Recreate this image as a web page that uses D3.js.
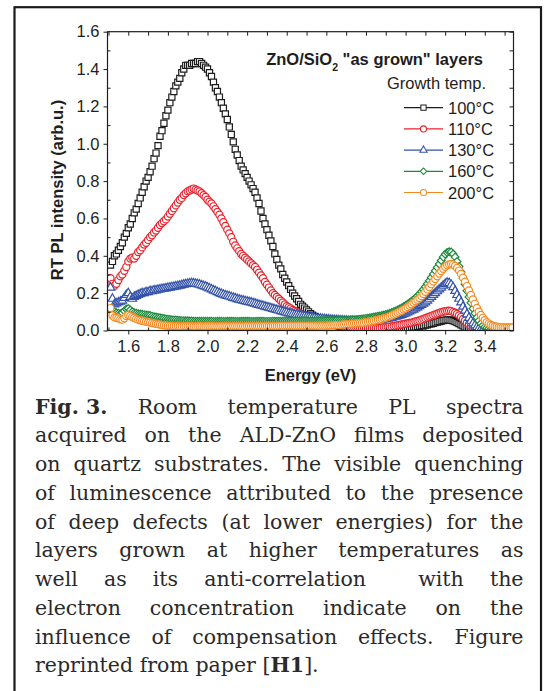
<!DOCTYPE html>
<html>
<head>
<meta charset="utf-8">
<script src="https://cdn.jsdelivr.net/npm/d3@7"></script>
<style>
  body { margin: 0; background: #fff; }
  svg { display: block; }
</style>
</head>
<body>
<div id="chart"></div>
<script>
// photon energy (eV), one reading every 0.01 eV
const energy = [
  1.51,1.52,1.53,1.54,1.55,1.56,1.57,1.58,1.59,1.60,
  1.61,1.62,1.63,1.64,1.65,1.66,1.67,1.68,1.69,1.70,
  1.71,1.72,1.73,1.74,1.75,1.76,1.77,1.78,1.79,1.80,
  1.81,1.82,1.83,1.84,1.85,1.86,1.87,1.88,1.89,1.90,
  1.91,1.92,1.93,1.94,1.95,1.96,1.97,1.98,1.99,2.00,
  2.01,2.02,2.03,2.04,2.05,2.06,2.07,2.08,2.09,2.10,
  2.11,2.12,2.13,2.14,2.15,2.16,2.17,2.18,2.19,2.20,
  2.21,2.22,2.23,2.24,2.25,2.26,2.27,2.28,2.29,2.30,
  2.31,2.32,2.33,2.34,2.35,2.36,2.37,2.38,2.39,2.40,
  2.41,2.42,2.43,2.44,2.45,2.46,2.47,2.48,2.49,2.50,
  2.51,2.52,2.53,2.54,2.55,2.56,2.57,2.58,2.59,2.60,
  2.61,2.62,2.63,2.64,2.65,2.66,2.67,2.68,2.69,2.70,
  2.71,2.72,2.73,2.74,2.75,2.76,2.77,2.78,2.79,2.80,
  2.81,2.82,2.83,2.84,2.85,2.86,2.87,2.88,2.89,2.90,
  2.91,2.92,2.93,2.94,2.95,2.96,2.97,2.98,2.99,3.00,
  3.01,3.02,3.03,3.04,3.05,3.06,3.07,3.08,3.09,3.10,
  3.11,3.12,3.13,3.14,3.15,3.16,3.17,3.18,3.19,3.20,
  3.21,3.22,3.23,3.24,3.25,3.26,3.27,3.28,3.29,3.30,
  3.31,3.32,3.33,3.34,3.35,3.36,3.37,3.38,3.39,3.40,
  3.41,3.42,3.43,3.44,3.45,3.46,3.47,3.48,3.49,3.50,
  3.51,3.52,3.53,3.54
];

// RT PL intensity (arb.u.) for each growth temperature
const pl100 = [
  0.35,0.37,0.40,0.41,0.43,0.45,0.47,0.50,0.52,0.55,
  0.57,0.60,0.63,0.65,0.68,0.71,0.74,0.77,0.80,0.82,
  0.85,0.88,0.92,0.95,0.99,1.04,1.07,1.11,1.15,1.18,
  1.22,1.25,1.28,1.31,1.33,1.35,1.38,1.40,1.42,1.42,
  1.42,1.43,1.43,1.43,1.44,1.44,1.43,1.42,1.41,1.40,
  1.38,1.36,1.33,1.30,1.28,1.25,1.22,1.19,1.16,1.13,
  1.09,1.05,1.01,0.97,0.94,0.91,0.88,0.86,0.84,0.82,
  0.80,0.78,0.76,0.74,0.71,0.68,0.64,0.60,0.57,0.54,
  0.51,0.48,0.45,0.41,0.38,0.35,0.33,0.30,0.28,0.26,
  0.24,0.22,0.20,0.185,0.17,0.155,0.14,0.13,0.12,0.11,
  0.10,0.09,0.082,0.075,0.068,0.062,0.057,0.052,0.048,0.044,
  0.041,0.037,0.034,0.031,0.028,0.025,0.022,0.020,0.018,0.016,
  0.014,0.012,0.010,0.009,0.008,0.007,0.006,0.005,0.005,0.004,
  0.004,0.004,0.004,0.005,0.005,0.005,0.006,0.006,0.007,0.007,
  0.008,0.009,0.009,0.010,0.010,0.011,0.012,0.012,0.013,0.014,
  0.015,0.016,0.017,0.018,0.019,0.021,0.023,0.025,0.027,0.029,
  0.031,0.034,0.036,0.039,0.042,0.045,0.048,0.051,0.053,0.055,
  0.056,0.056,0.055,0.052,0.048,0.043,0.037,0.031,0.025,0.019,
  0.014,0.010,0.006,0.003,0.001,0,0,0,0,0,
  0,0,0,0,0,0,0,0,0,0,
  0,0,0,0
];
const pl110 = [
  0.28,0.25,0.24,0.25,0.27,0.29,0.30,0.32,0.34,0.37,
  0.385,0.39,0.385,0.40,0.42,0.43,0.445,0.46,0.47,0.485,
  0.50,0.51,0.525,0.535,0.55,0.565,0.575,0.585,0.595,0.61,
  0.625,0.64,0.655,0.67,0.685,0.70,0.71,0.725,0.735,0.745,
  0.75,0.755,0.76,0.755,0.75,0.745,0.735,0.725,0.715,0.70,
  0.69,0.68,0.665,0.65,0.635,0.62,0.60,0.58,0.56,0.54,
  0.52,0.50,0.475,0.455,0.44,0.425,0.41,0.40,0.39,0.38,
  0.37,0.36,0.35,0.34,0.325,0.31,0.295,0.28,0.26,0.245,
  0.23,0.215,0.20,0.19,0.18,0.17,0.16,0.15,0.14,0.13,
  0.125,0.118,0.11,0.105,0.10,0.095,0.09,0.085,0.08,0.075,
  0.071,0.067,0.063,0.059,0.055,0.052,0.049,0.046,0.043,0.041,
  0.039,0.037,0.035,0.033,0.031,0.030,0.028,0.026,0.025,0.023,
  0.022,0.020,0.019,0.018,0.017,0.016,0.015,0.014,0.013,0.012,
  0.012,0.012,0.012,0.013,0.013,0.014,0.015,0.016,0.017,0.018,
  0.019,0.021,0.022,0.024,0.026,0.028,0.030,0.032,0.034,0.036,
  0.038,0.040,0.042,0.045,0.048,0.051,0.054,0.058,0.062,0.066,
  0.070,0.074,0.078,0.082,0.086,0.090,0.094,0.098,0.101,0.103,
  0.105,0.106,0.104,0.100,0.095,0.089,0.081,0.072,0.062,0.052,
  0.042,0.034,0.026,0.018,0.012,0.007,0.004,0.002,0.001,0,
  0,0,0,0,0,0,0,0,0,0,
  0,0,0,0
];
const pl130 = [
  0.23,0.17,0.14,0.145,0.15,0.155,0.16,0.175,0.19,0.20,
  0.18,0.17,0.18,0.185,0.19,0.195,0.20,0.20,0.205,0.205,
  0.21,0.21,0.215,0.215,0.218,0.22,0.222,0.224,0.226,0.228,
  0.23,0.232,0.234,0.236,0.238,0.24,0.243,0.246,0.248,0.25,
  0.252,0.253,0.252,0.25,0.248,0.245,0.242,0.238,0.235,0.23,
  0.225,0.22,0.215,0.21,0.205,0.20,0.196,0.192,0.188,0.185,
  0.182,0.178,0.175,0.172,0.168,0.165,0.162,0.16,0.157,0.155,
  0.152,0.15,0.147,0.144,0.14,0.137,0.134,0.131,0.128,0.125,
  0.122,0.119,0.116,0.113,0.11,0.107,0.104,0.101,0.098,0.095,
  0.092,0.09,0.088,0.085,0.083,0.081,0.079,0.077,0.075,0.073,
  0.071,0.07,0.068,0.067,0.065,0.064,0.063,0.062,0.061,0.06,
  0.059,0.058,0.057,0.056,0.056,0.055,0.054,0.054,0.053,0.053,
  0.052,0.052,0.052,0.051,0.051,0.051,0.051,0.051,0.051,0.052,
  0.052,0.053,0.053,0.054,0.055,0.056,0.057,0.058,0.06,0.062,
  0.064,0.066,0.068,0.071,0.074,0.077,0.08,0.084,0.088,0.092,
  0.097,0.102,0.107,0.112,0.118,0.124,0.13,0.137,0.144,0.151,
  0.16,0.17,0.18,0.19,0.20,0.21,0.22,0.23,0.24,0.25,
  0.256,0.254,0.245,0.232,0.212,0.19,0.17,0.15,0.128,0.107,
  0.087,0.068,0.052,0.038,0.027,0.018,0.012,0.007,0.004,0.002,
  0.001,0,0,0,0,0,0,0,0,0,
  0,0,0,0
];
const pl160 = [
  0.11,0.10,0.10,0.095,0.092,0.09,0.095,0.105,0.115,0.118,
  0.11,0.10,0.095,0.092,0.09,0.088,0.087,0.085,0.083,0.082,
  0.08,0.077,0.074,0.072,0.07,0.068,0.066,0.064,0.062,0.06,
  0.059,0.058,0.057,0.056,0.055,0.054,0.053,0.053,0.052,0.052,
  0.051,0.051,0.05,0.05,0.05,0.05,0.05,0.05,0.05,0.05,
  0.05,0.05,0.049,0.049,0.05,0.05,0.05,0.049,0.049,0.05,
  0.05,0.05,0.05,0.049,0.049,0.049,0.05,0.05,0.05,0.05,
  0.05,0.049,0.049,0.049,0.05,0.05,0.05,0.05,0.049,0.049,
  0.049,0.049,0.05,0.05,0.05,0.05,0.05,0.05,0.05,0.05,
  0.05,0.05,0.05,0.05,0.05,0.05,0.05,0.051,0.051,0.051,
  0.051,0.051,0.051,0.051,0.051,0.051,0.052,0.052,0.052,0.052,
  0.052,0.052,0.052,0.052,0.053,0.053,0.053,0.053,0.053,0.053,
  0.054,0.055,0.056,0.057,0.058,0.059,0.06,0.062,0.063,0.065,
  0.066,0.068,0.07,0.072,0.074,0.076,0.078,0.08,0.083,0.086,
  0.089,0.093,0.097,0.101,0.105,0.11,0.115,0.12,0.127,0.134,
  0.141,0.149,0.157,0.165,0.174,0.184,0.195,0.207,0.22,0.234,
  0.25,0.266,0.284,0.302,0.32,0.338,0.356,0.375,0.393,0.408,
  0.418,0.422,0.42,0.41,0.393,0.37,0.343,0.313,0.28,0.247,
  0.213,0.18,0.148,0.118,0.092,0.07,0.052,0.038,0.027,0.019,
  0.013,0.009,0.006,0.004,0.003,0.002,0.001,0,0,0,
  0,0,0,0
];
const pl200 = [
  0.12,0.08,0.07,0.068,0.065,0.06,0.058,0.065,0.078,0.083,
  0.078,0.072,0.068,0.062,0.058,0.055,0.052,0.05,0.047,0.045,
  0.043,0.04,0.038,0.036,0.034,0.032,0.03,0.028,0.027,0.026,
  0.025,0.025,0.024,0.024,0.024,0.023,0.023,0.024,0.024,0.024,
  0.024,0.024,0.023,0.023,0.024,0.024,0.024,0.023,0.023,0.024,
  0.024,0.024,0.024,0.023,0.023,0.023,0.024,0.024,0.024,0.024,
  0.023,0.023,0.024,0.024,0.024,0.024,0.024,0.023,0.023,0.024,
  0.024,0.024,0.024,0.024,0.024,0.024,0.024,0.024,0.024,0.024,
  0.024,0.024,0.024,0.024,0.024,0.024,0.025,0.025,0.025,0.025,
  0.025,0.025,0.025,0.025,0.025,0.025,0.025,0.025,0.025,0.025,
  0.025,0.025,0.025,0.025,0.025,0.026,0.026,0.026,0.026,0.026,
  0.027,0.027,0.028,0.028,0.029,0.029,0.03,0.031,0.032,0.033,
  0.034,0.035,0.036,0.037,0.038,0.039,0.04,0.041,0.042,0.044,
  0.046,0.048,0.05,0.052,0.054,0.056,0.059,0.062,0.065,0.068,
  0.072,0.076,0.08,0.085,0.09,0.095,0.1,0.106,0.112,0.118,
  0.125,0.132,0.14,0.148,0.156,0.165,0.174,0.184,0.195,0.207,
  0.22,0.233,0.248,0.262,0.276,0.29,0.305,0.318,0.33,0.341,
  0.349,0.354,0.356,0.353,0.346,0.335,0.321,0.303,0.283,0.261,
  0.238,0.214,0.19,0.166,0.143,0.121,0.101,0.083,0.068,0.055,
  0.045,0.037,0.031,0.026,0.022,0.02,0.018,0.017,0.017,0.016,
  0.016,0.016,0.016,0.016
];

const seriesNames = ["100°C", "110°C", "130°C", "160°C", "200°C"];
const seriesColors = ["#1c1c1c", "#e8232b", "#3553a8", "#1d8a3e", "#f48a1f"];
const seriesSymbols = ["square", "circle", "triangle", "diamond", "circle"];

const xMajorTicks = [1.6, 1.8, 2.0, 2.2, 2.4, 2.6, 2.8, 3.0, 3.2, 3.4];
const xMinorTicks = [1.5, 1.7, 1.9, 2.1, 2.3, 2.5, 2.7, 2.9, 3.1, 3.3, 3.5];
const yMajorTicks = [0.0, 0.2, 0.4, 0.6, 0.8, 1.0, 1.2, 1.4, 1.6];
const yMinorTicks = [0.1, 0.3, 0.5, 0.7, 0.9, 1.1, 1.3, 1.5];

const captionLines = [
  "**Fig.\u00a03.** Room temperature PL spectra",
  "acquired on the ALD-ZnO films deposited",
  "on quartz substrates. The visible quenching",
  "of luminescence attributed to the presence",
  "of deep defects (at lower energies) for the",
  "layers grown at higher temperatures as",
  "well as its anti-correlation  with the",
  "electron concentration indicate on the",
  "influence of compensation effects. Figure",
  "reprinted from paper [**H1**]."
];

const W = 546, H = 691;
const plot = { left: 107.5, right: 513.5, top: 31.7, bottom: 330.5 };
const sans = "'Liberation Sans', Arial, Helvetica, sans-serif";
const serif = "'DejaVu Serif', serif";
const ink = "#1e1e1e";

const svg = d3.select("#chart").append("svg")
  .attr("width", W)
  .attr("height", H);

svg.append("rect").attr("width", W).attr("height", H).attr("fill", "#fff");

// box around figure + caption (open at the bottom of the crop)
svg.append("rect")
  .attr("x", 14.5).attr("y", 7.2)
  .attr("width", 526.5).attr("height", 720)
  .attr("fill", "none")
  .attr("stroke", "#1a1a1a")
  .attr("stroke-width", 2.2);

const x = d3.scaleLinear().domain([1.495, 3.545]).range([plot.left, plot.right]);
const y = d3.scaleLinear().domain([0, 1.6]).range([plot.bottom, plot.top]);

svg.append("defs").append("clipPath").attr("id", "plotClip")
  .append("rect")
  .attr("x", plot.left).attr("y", plot.top)
  .attr("width", plot.right - plot.left)
  .attr("height", plot.bottom - plot.top);

// marker shapes
const symbolPath = {
  square: d3.symbol(d3.symbolSquare, 38)(),
  circle: d3.symbol(d3.symbolCircle, 40)(),
  triangle: d3.symbol(d3.symbolTriangle, 32)(),
  diamond: d3.symbol(d3.symbolSquare, 30)()
};
const symbolTurn = { diamond: " rotate(45)" };

const seriesValues = [pl100, pl110, pl130, pl160, pl200];
const series = seriesNames.map((name, i) => ({
  name: name,
  color: seriesColors[i],
  symbol: seriesSymbols[i],
  points: energy.map((e, j) => ({ e: e, v: seriesValues[i][j] }))
}));

const marks = svg.append("g").attr("clip-path", "url(#plotClip)");
series.forEach((s) => {
  marks.append("g")
    .selectAll("path")
    .data(s.points)
    .join("path")
    .attr("d", symbolPath[s.symbol])
    .attr("transform", (d) => `translate(${x(d.e)},${y(d.v)})` + (symbolTurn[s.symbol] || ""))
    .attr("fill", "#fff")
    .attr("stroke", s.color)
    .attr("stroke-width", 1.2);
});

// axes
const fmt = d3.format(".1f");
function styleAxis(g) {
  g.select(".domain").remove();
  g.selectAll("line").attr("stroke", ink).attr("stroke-width", 1);
  g.attr("font-family", sans).attr("font-size", 16.5);
  g.selectAll("text").attr("fill", ink);
}

svg.append("g")
  .attr("transform", `translate(0,${plot.bottom})`)
  .call(d3.axisBottom(x).tickValues(xMajorTicks).tickSize(4).tickPadding(6).tickFormat(fmt).tickSizeOuter(0))
  .call(styleAxis);
svg.append("g")
  .attr("transform", `translate(0,${plot.bottom})`)
  .call(d3.axisTop(x).tickValues(xMinorTicks).tickSize(3).tickFormat("").tickSizeOuter(0))
  .call(styleAxis);
svg.append("g")
  .attr("transform", `translate(0,${plot.top})`)
  .call(d3.axisBottom(x).tickValues(xMajorTicks.concat(xMinorTicks)).tickSize(4).tickFormat("").tickSizeOuter(0))
  .call(styleAxis);

svg.append("g")
  .attr("transform", `translate(${plot.left},0)`)
  .call(d3.axisLeft(y).tickValues(yMajorTicks).tickSize(4).tickPadding(4).tickFormat(fmt).tickSizeOuter(0))
  .call(styleAxis);
svg.append("g")
  .attr("transform", `translate(${plot.left},0)`)
  .call(d3.axisRight(y).tickValues(yMinorTicks).tickSize(3).tickFormat("").tickSizeOuter(0))
  .call(styleAxis);
svg.append("g")
  .attr("transform", `translate(${plot.right},0)`)
  .call(d3.axisLeft(y).tickValues(yMajorTicks.concat(yMinorTicks)).tickSize(4).tickFormat("").tickSizeOuter(0))
  .call(styleAxis);

svg.append("rect")
  .attr("x", plot.left).attr("y", plot.top)
  .attr("width", plot.right - plot.left)
  .attr("height", plot.bottom - plot.top)
  .attr("fill", "none")
  .attr("stroke", ink)
  .attr("stroke-width", 1.2);

// axis titles
svg.append("text")
  .attr("x", (plot.left + plot.right) / 2)
  .attr("y", 380.5)
  .attr("text-anchor", "middle")
  .attr("font-family", sans).attr("font-size", 16.5).attr("font-weight", "bold")
  .attr("fill", ink)
  .text("Energy (eV)");

svg.append("text")
  .attr("transform", "translate(63,190) rotate(-90)")
  .attr("text-anchor", "middle")
  .attr("font-family", sans).attr("font-size", 16.5).attr("font-weight", "bold")
  .attr("fill", ink)
  .text("RT PL intensity (arb.u.)");

// legend
const legend = svg.append("g")
  .attr("font-family", sans).attr("font-size", 16.5).attr("fill", ink);

const legendTitle = legend.append("text")
  .attr("x", 483).attr("y", 65)
  .attr("text-anchor", "end")
  .attr("font-weight", "bold");
legendTitle.append("tspan").text("ZnO/SiO");
legendTitle.append("tspan").attr("dy", 5.5).attr("font-size", 10.5).text("2");
legendTitle.append("tspan").attr("dy", -5.5).text("\u00a0\"as grown\" layers");

legend.append("text")
  .attr("x", 486).attr("y", 88.5)
  .attr("text-anchor", "end")
  .text("Growth temp.");

const rows = legend.selectAll("g.row")
  .data(series)
  .join("g")
  .attr("class", "row")
  .attr("transform", (d, i) => `translate(0,${107.7 + i * 21.2})`);
rows.append("line")
  .attr("x1", 404).attr("x2", 443)
  .attr("stroke", (d) => d.color)
  .attr("stroke-width", 1.2);
rows.append("path")
  .attr("d", (d) => symbolPath[d.symbol])
  .attr("transform", (d) => "translate(423.5,0) scale(0.85)" + (symbolTurn[d.symbol] || ""))
  .attr("fill", "#fff")
  .attr("stroke", (d) => d.color)
  .attr("stroke-width", 1.2);
rows.append("text")
  .attr("x", 448)
  .attr("y", 6)
  .text((d) => d.name);

// caption, justified by hand
const caption = svg.append("g")
  .attr("font-family", serif).attr("font-size", 20.5).attr("fill", "#2a2a2a");
const capLeft = 35, capRight = 523.5, capTop = 413.5, capLead = 28.75;

captionLines.forEach((line, i) => {
  const tokens = [];
  line.split(" ").forEach((p) => {
    if (p === "") tokens[tokens.length - 1].gap += 1;
    else tokens.push({ s: p, gap: 1 });
  });
  tokens.forEach((t) => {
    t.node = caption.append("text").attr("y", capTop + i * capLead);
    t.s.split("**").forEach((part, k) => {
      if (part === "") return;
      t.node.append("tspan")
        .attr("font-weight", k % 2 ? "bold" : null)
        .text(part);
    });
    t.w = t.node.node().getComputedTextLength();
  });
  const total = d3.sum(tokens, (t) => t.w);
  const weights = d3.sum(tokens.slice(0, -1), (t) => t.gap);
  const last = i === captionLines.length - 1;
  const unit = last ? 6.6 : (capRight - capLeft - total) / weights;
  let cx = capLeft;
  tokens.forEach((t) => {
    t.node.attr("x", cx);
    cx += t.w + unit * t.gap;
  });
});
</script>
</body>
</html>
